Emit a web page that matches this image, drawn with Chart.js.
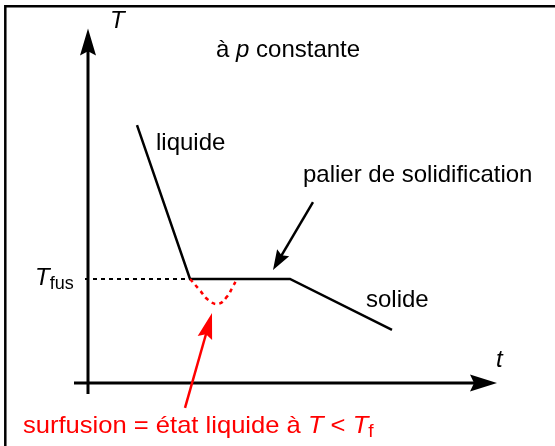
<!DOCTYPE html>
<html>
<head>
<meta charset="utf-8">
<script src="https://cdn.jsdelivr.net/npm/chart.js@4"></script>
<style>
  html, body { margin: 0; padding: 0; background: #fff; }
  #wrap { width: 555px; height: 446px; }
</style>
</head>
<body>
<div id="wrap"><canvas id="cooling" width="555" height="446"></canvas></div>
<script>
  // courbe de refroidissement (t en unités arbitraires, T en unités arbitraires)
  var coolTime = [4.9, 10.2, 20.2, 30.4];
  var coolTemp = [24.8, 10, 10, 5.1];

  // surfusion : le liquide passe sous T_fus avant de se solidifier
  var surfTime = [10.2, 11.2, 12.0, 13.0, 13.9, 14.5, 14.9];
  var surfTemp = [10, 8.9, 8.0, 7.6, 8.3, 9.3, 10];

  var T_FUS = 10;
  var fusLineTime = [-0.3, 10.2];

  // axes : [t début, t pointe] et [T début, T pointe]
  var tAxisRange = [-1.4, 40.9];
  var TAxisRange = [-1.06, 34.1];

  // flèches d'annotation : [t, T] de départ puis de pointe
  var palierArrow = [[22.5, 17.4], [18.5, 10.87]];
  var surfArrow = [[9.7, -2.4], [12.4, 6.73]];

  var RED = "#ff0000";
  var FONT = "'Liberation Sans', Arial, sans-serif";

  function toPoints(xs, ys) {
    return xs.map(function (x, i) { return { x: x, y: ys[i] }; });
  }

  function arrowHead(ctx, x0, y0, x1, y1, len, half, color) {
    var a = Math.atan2(y1 - y0, x1 - x0);
    var c = Math.cos(a), s = Math.sin(a);
    var bx = x1 - c * len, by = y1 - s * len;
    var nx = x1 - c * len * 0.85, ny = y1 - s * len * 0.85;
    ctx.fillStyle = color;
    ctx.beginPath();
    ctx.moveTo(x1, y1);
    ctx.lineTo(bx - s * half, by + c * half);
    ctx.lineTo(nx, ny);
    ctx.lineTo(bx + s * half, by - c * half);
    ctx.closePath();
    ctx.fill();
  }

  function arrow(ctx, x0, y0, x1, y1, opts) {
    var a = Math.atan2(y1 - y0, x1 - x0);
    var ex = x1 - Math.cos(a) * opts.len * 0.8;
    var ey = y1 - Math.sin(a) * opts.len * 0.8;
    ctx.strokeStyle = opts.color;
    ctx.lineWidth = opts.width;
    ctx.lineCap = "butt";
    ctx.beginPath();
    ctx.moveTo(x0, y0);
    ctx.lineTo(ex, ey);
    ctx.stroke();
    arrowHead(ctx, x0, y0, x1, y1, opts.len, opts.half, opts.color);
  }

  // morceaux de texte : [texte, style]  style: n normal, i italique, s indice
  function richText(ctx, x, y, parts, size, color, stretch) {
    var cx = 0;
    ctx.save();
    ctx.translate(x, y);
    ctx.scale(stretch || 1, 1);
    ctx.fillStyle = color;
    ctx.textBaseline = "alphabetic";
    ctx.textAlign = "left";
    parts.forEach(function (p) {
      var fs = p[1] === "s" ? Math.round(size * 0.74) : size;
      var style = p[1] === "i" ? "italic " : "";
      ctx.font = style + fs + "px " + FONT;
      ctx.fillText(p[0], cx, p[1] === "s" ? 4 : 0);
      cx += ctx.measureText(p[0]).width;
    });
    ctx.restore();
  }

  var labels = [
    { t: 2.2, T: 34.13, parts: [["T", "i"]], color: "#000" },
    { t: 12.8, T: 31.35, parts: [["à ", "n"], ["p", "i"], [" constante", "n"]], color: "#000" },
    { t: 6.8, T: 22.4, parts: [["liquide", "n"]], color: "#000" },
    { t: 21.5, T: 19.33, parts: [["palier de solidification", "n"]], color: "#000" },
    { t: 27.8, T: 7.31, parts: [["solide", "n"]], color: "#000" },
    { t: -5.3, T: 9.42, parts: [["T", "i"], ["fus", "s"]], color: "#000" },
    { t: 40.8, T: 1.54, parts: [["t", "i"]], color: "#000" },
    { t: -6.5, T: -4.81, stretch: 1.065,
      parts: [["surfusion = état liquide à ", "n"], ["T", "i"], [" < ", "n"], ["T", "i"], ["f", "s"]], color: RED }
  ];

  var decorPlugin = {
    id: "decor",
    beforeDraw: function (chart) {
      var ctx = chart.ctx;
      ctx.save();
      ctx.fillStyle = "#fff";
      ctx.fillRect(0, 0, chart.width, chart.height);
      // cadre
      ctx.strokeStyle = "#000";
      ctx.lineWidth = 2.5;
      ctx.beginPath();
      ctx.moveTo(5.3, chart.height + 5);
      ctx.lineTo(5.3, 6.2);
      ctx.lineTo(chart.width + 5, 6.2);
      ctx.stroke();
      ctx.restore();
    },
    afterDatasetsDraw: function (chart) {
      var ctx = chart.ctx;
      var xs = chart.scales.x, ys = chart.scales.y;
      function px(t) { return xs.getPixelForValue(t); }
      function py(T) { return ys.getPixelForValue(T); }
      ctx.save();
      arrow(ctx, px(tAxisRange[0]), py(0), px(tAxisRange[1]), py(0),
        { color: "#000", width: 3, len: 27, half: 8.5 });
      arrow(ctx, px(0), py(TAxisRange[0]), px(0), py(TAxisRange[1]),
        { color: "#000", width: 3, len: 27, half: 8 });
      arrow(ctx, px(palierArrow[0][0]), py(palierArrow[0][1]), px(palierArrow[1][0]), py(palierArrow[1][1]),
        { color: "#000", width: 2.5, len: 20, half: 7 });
      arrow(ctx, px(surfArrow[0][0]), py(surfArrow[0][1]), px(surfArrow[1][0]), py(surfArrow[1][1]),
        { color: RED, width: 2.5, len: 26, half: 7.5 });
      labels.forEach(function (l) {
        richText(ctx, px(l.t), py(l.T), l.parts, 24, l.color, l.stretch);
      });
      ctx.restore();
    }
  };

  new Chart(document.getElementById("cooling"), {
    type: "scatter",
    data: {
      datasets: [
        {
          data: toPoints(fusLineTime, [T_FUS, T_FUS]),
          showLine: true,
          borderColor: "#000",
          borderWidth: 2,
          borderDash: [4, 4],
          pointRadius: 0
        },
        {
          data: toPoints(surfTime, surfTemp),
          showLine: true,
          borderColor: RED,
          borderWidth: 2.5,
          borderDash: [4, 4],
          tension: 0.45,
          pointRadius: 0
        },
        {
          data: toPoints(coolTime, coolTemp),
          showLine: true,
          borderColor: "#000",
          borderWidth: 2.5,
          pointRadius: 0
        }
      ]
    },
    options: {
      responsive: false,
      animation: false,
      layout: { padding: 0 },
      plugins: { legend: { display: false }, tooltip: { enabled: false } },
      scales: {
        x: { type: "linear", min: -8.8, max: 46.7, display: false },
        y: { type: "linear", min: -6.06, max: 36.83, display: false }
      }
    },
    plugins: [decorPlugin]
  });
</script>
</body>
</html>
